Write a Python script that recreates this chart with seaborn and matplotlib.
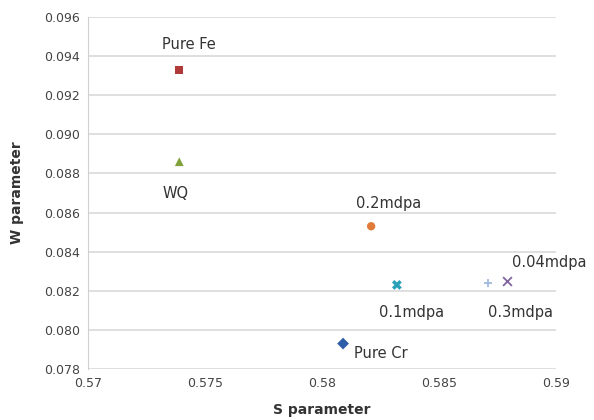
import matplotlib
matplotlib.use("Agg")
import matplotlib.pyplot as plt
import seaborn as sns
import pandas as pd

labels = ["Pure Fe", "WQ", "0.2mdpa", "0.1mdpa", "0.3mdpa", "0.04mdpa", "Pure Cr"]
s_param = [0.5739, 0.5739, 0.5821, 0.5832, 0.5871, 0.5879, 0.5809]
w_param = [0.0933, 0.0886, 0.0853, 0.0823, 0.0824, 0.0825, 0.0793]
colors = ["#b03a3a", "#7fa03a", "#e07b39", "#2aa0b8", "#9fbbe0", "#8064a2", "#2f5ea8"]
markers = ["s", "^", "o", "X", "+", "x", "D"]
sizes = [36, 40, 36, 50, 40, 40, 36]
# label offsets in pixels (dx, dy)
offsets = [(10, 25), (-4, -32), (17, 23), (15, -28), (32, -30), (42, 18), (38, -10)]

x_ticks = [0.57, 0.575, 0.58, 0.585, 0.59]
x_tick_labels = ["0.57", "0.575", "0.58", "0.585", "0.59"]
y_ticks = [0.078, 0.080, 0.082, 0.084, 0.086, 0.088, 0.090, 0.092, 0.094, 0.096]

df = pd.DataFrame({"S": s_param, "W": w_param, "label": labels})

sns.set_style("white")
fig = plt.figure(figsize=(5.94, 4.2), dpi=100)
ax = fig.add_axes([88/594, 1 - 369/420, (556-88)/594, (369-17)/420])

for i, lab in enumerate(labels):
    sub = df[df["label"] == lab]
    filled = markers[i] not in ("+", "x")
    kw = dict(edgecolor="none") if filled else dict(linewidth=1.3)
    sns.scatterplot(data=sub, x="S", y="W", color=colors[i], marker=markers[i],
                    s=sizes[i], ax=ax, zorder=3, legend=False, **kw)

for lab, x, y, (dx, dy) in zip(labels, s_param, w_param, offsets):
    ax.annotate(lab, (x, y), xytext=(dx*0.72, dy*0.72), textcoords="offset points",
                ha="center", va="center", fontsize=10.5, color="#333333")

ax.set_xlim(0.57, 0.59)
ax.set_ylim(0.078, 0.096)
ax.set_xticks(x_ticks)
ax.set_xticklabels(x_tick_labels)
ax.set_yticks(y_ticks)
ax.set_yticklabels([f"{v:.3f}" for v in y_ticks])
ax.tick_params(axis="both", labelsize=9, colors="#444444", length=0, pad=6)
ax.yaxis.grid(True, color="#d9d9d9", linewidth=1.2)
ax.xaxis.grid(False)
for side in ["top", "right", "bottom"]:
    ax.spines[side].set_visible(False)
ax.spines["left"].set_color("#d0d0d0")
ax.set_xlabel("S parameter", fontsize=10, fontweight="bold", color="#333333", labelpad=9)
ax.set_ylabel("W parameter", fontsize=10, fontweight="bold", color="#333333", labelpad=14)

fig.savefig("out.png", dpi=100)
